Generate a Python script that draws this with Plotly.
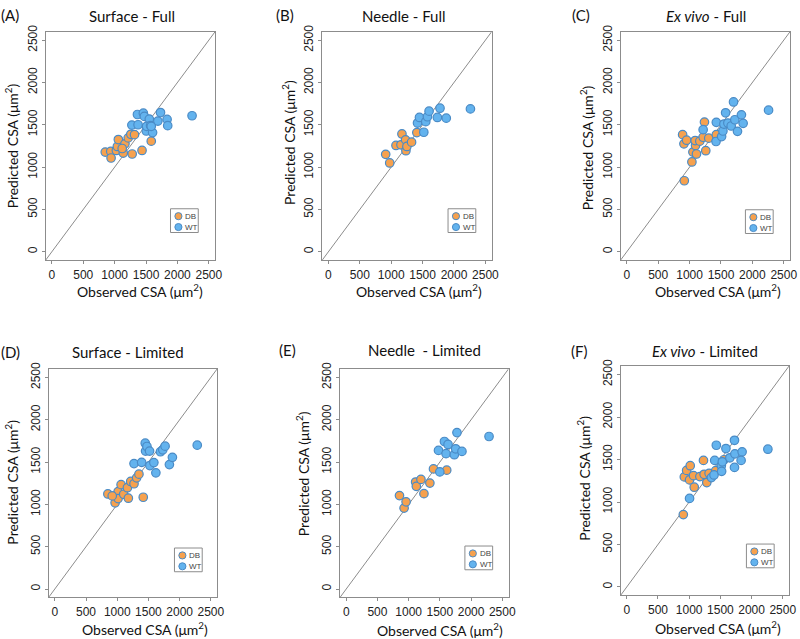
import plotly.graph_objects as go

# ---------------- data (observed, predicted) ----------------
A_db_obs = [850, 938, 943, 1027, 1043, 1059, 1164, 1137, 1216, 1258, 1316, 1279, 1436, 1583, 1120]
A_db_pred = [1178, 1186, 1108, 1197, 1244, 1326, 1275, 1166, 1345, 1388, 1384, 1155, 1197, 1307, 1220]
A_wt_obs = [1363, 1457, 1473, 1552, 1730, 1688, 1835, 1845, 2233, 1274, 1373, 1504, 1509, 1572, 1604, 1583]
A_wt_pred = [1622, 1638, 1599, 1568, 1645, 1544, 1564, 1490, 1607, 1497, 1501, 1427, 1482, 1490, 1408, 1482]

B_db_obs = [912, 976, 1076, 1155, 1171, 1229, 1234, 1250, 1324, 1408]
B_db_pred = [1151, 1049, 1256, 1264, 1392, 1322, 1194, 1244, 1295, 1408]
B_wt_obs = [1419, 1450, 1519, 1550, 1577, 1603, 1735, 1777, 1877, 2262]
B_wt_pred = [1521, 1587, 1412, 1537, 1595, 1661, 1587, 1696, 1579, 1688]

C_db_obs = [889, 910, 953, 916, 1037, 1053, 1095, 1089, 1110, 1163, 1216, 1237, 1258, 1305, 1426]
C_db_pred = [1384, 1275, 1318, 839, 1061, 1178, 1256, 1314, 1155, 1307, 1353, 1532, 1194, 1342, 1384]
C_wt_obs = [1216, 1426, 1421, 1510, 1531, 1547, 1574, 1610, 1663, 1721, 1700, 1763, 1826, 1853, 2258]
C_wt_pred = [1443, 1529, 1303, 1361, 1427, 1509, 1642, 1521, 1486, 1560, 1770, 1423, 1618, 1517, 1673]

D_db_obs = [850, 966, 1014, 1014, 1062, 1104, 1163, 1178, 1216, 1269, 1311, 1348, 1417, 920]
D_db_pred = [1123, 1018, 1151, 1069, 1233, 1120, 1197, 1073, 1271, 1244, 1314, 1357, 1084, 1100]
D_wt_obs = [1269, 1391, 1449, 1454, 1476, 1518, 1523, 1587, 1619, 1693, 1730, 1767, 1836, 1884, 2282]
D_wt_pred = [1482, 1497, 1723, 1630, 1684, 1630, 1459, 1494, 1373, 1622, 1645, 1688, 1470, 1556, 1700]

E_db_obs = [853, 927, 959, 1112, 1123, 1197, 1245, 1340, 1398, 1610]
E_db_pred = [1104, 956, 1030, 1264, 1213, 1295, 1127, 1252, 1419, 1404]
E_wt_obs = [1478, 1499, 1573, 1599, 1631, 1732, 1753, 1774, 1854, 2288]
E_wt_pred = [1638, 1384, 1743, 1599, 1708, 1587, 1657, 1848, 1626, 1802]

F_db_obs = [906, 922, 959, 1006, 1017, 1070, 1081, 1171, 1229, 1239, 1282, 1319, 1425, 1557]
F_db_pred = [852, 1295, 1372, 1260, 1427, 1310, 1174, 1299, 1489, 1326, 1229, 1337, 1368, 1497]
F_wt_obs = [1006, 1356, 1398, 1409, 1435, 1515, 1520, 1531, 1589, 1652, 1726, 1732, 1726, 1848, 1832, 2261]
F_wt_pred = [1042, 1287, 1318, 1489, 1668, 1427, 1361, 1473, 1629, 1520, 1407, 1567, 1726, 1590, 1489, 1621]

panel_letters = ["(A)", "(B)", "(C)", "(D)", "(E)", "(F)"]
panel_titles = ["Surface - Full", "Needle - Full", "<i>Ex vivo</i> - Full",
                "Surface - Limited", "Needle  - Limited", "<i>Ex vivo</i> - Limited"]
group_names = ["DB", "WT"]
tick_vals = [0, 500, 1000, 1500, 2000, 2500]
tick_text = ["0", "500", "1000", "1500", "2000", "2500"]
x_label = "Observed CSA (μm<sup>2</sup>)"
y_label = "Predicted CSA (μm<sup>2</sup>)"

panels = [
    (A_db_obs, A_db_pred, A_wt_obs, A_wt_pred),
    (B_db_obs, B_db_pred, B_wt_obs, B_wt_pred),
    (C_db_obs, C_db_pred, C_wt_obs, C_wt_pred),
    (D_db_obs, D_db_pred, D_wt_obs, D_wt_pred),
    (E_db_obs, E_db_pred, E_wt_obs, E_wt_pred),
    (F_db_obs, F_db_pred, F_wt_obs, F_wt_pred),
]

# ---------------- layout geometry (pixels in 800x639 canvas) ----------------
W, H = 800, 639
AXIS_RANGE = [-100, 2600]
boxes = [(46, 217, 25, 256), (325, 496, 25, 256), (626, 797, 25, 256),
         (49, 219, 366, 597), (343, 513, 366, 597), (626, 796, 363, 595)]
letter_pos = [(10, 8), (288, 8), (586, 8), (11, 349), (290, 347), (585, 348)]
title_pos = [(133, 9), (408, 9), (712, 9), (129, 349), (428, 347), (711, 348)]
xlab_pos = [(141, 287), (423, 287), (724, 287), (146, 628), (444, 629), (724, 627)]
ylab_pos = [(12, 140), (291, 137), (592, 142), (12, 480), (306, 472), (589, 476)]
legend_pos = [(172, 204), (452, 204), (752, 205), (176, 547), (469, 545), (753, 543)]
LEG_W, LEG_H = 28, 24

def px(x):
    return x / W

def py(y):
    return 1 - y / H

ORANGE = "#F6A14E"
BLUE = "#63B3EE"
EDGE = "#4A8BC6"
GRAY = "#8C8C8C"
fills = [ORANGE, BLUE]
NARROW = "Liberation Sans Narrow, Liberation Sans, Arial, sans-serif"
LABEL_FONT = "Lato, Open Sans, sans-serif"

fig = go.Figure()
layout = dict(width=W, height=H, margin=dict(l=0, r=0, t=0, b=0),
              paper_bgcolor="white", plot_bgcolor="white", showlegend=False)
annotations = []
shapes = []

def ann(text, x, y, size, family=LABEL_FONT, angle=0, color="#111", xanchor="center"):
    return dict(text=text, x=px(x), y=py(y), xref="paper", yref="paper",
                showarrow=False, xanchor=xanchor, yanchor="middle", textangle=angle,
                font=dict(family=family, size=size, color=color))

for i, (db_o, db_p, wt_o, wt_p) in enumerate(panels):
    n = "" if i == 0 else str(i + 1)
    xa, ya = "x" + n, "y" + n
    # diagonal identity line across the full axis range
    fig.add_trace(go.Scatter(x=AXIS_RANGE, y=AXIS_RANGE, mode="lines",
                             line=dict(color=GRAY, width=1), xaxis=xa, yaxis=ya,
                             showlegend=False, hoverinfo="skip"))
    for g, (xo, yp) in enumerate([(db_o, db_p), (wt_o, wt_p)]):
        fig.add_trace(go.Scatter(x=xo, y=yp, mode="markers", name=group_names[g],
                                 marker=dict(size=8.5, color=fills[g],
                                             line=dict(color=EDGE, width=1.2)),
                                 xaxis=xa, yaxis=ya))
    x0, x1, y0, y1 = boxes[i]
    axcommon = dict(range=AXIS_RANGE, showgrid=False, zeroline=False,
                    showline=True, mirror=True, linecolor=GRAY, linewidth=1,
                    ticks="outside", ticklen=3, tickcolor=GRAY,
                    tickvals=tick_vals, ticktext=tick_text,
                    tickfont=dict(family=NARROW, size=12, color="#222"))
    layout["xaxis" + n] = dict(axcommon, domain=[px(x0), px(x1)], anchor=ya)
    layout["yaxis" + n] = dict(axcommon, domain=[py(y1), py(y0)], anchor=xa, tickangle=-90)

    # per-panel key box
    lx, ly = legend_pos[i]
    shapes.append(dict(type="rect", xref="paper", yref="paper",
                       x0=px(lx), x1=px(lx + LEG_W), y0=py(ly + LEG_H), y1=py(ly),
                       line=dict(color=GRAY, width=1), fillcolor="white"))
    for g in range(2):
        cy = ly + 7.5 + g * 11
        cx = lx + 8
        shapes.append(dict(type="circle", xref="paper", yref="paper",
                           x0=px(cx - 3.6), x1=px(cx + 3.6), y0=py(cy + 3.6), y1=py(cy - 3.6),
                           line=dict(color=EDGE, width=1), fillcolor=fills[g]))
        annotations.append(ann(group_names[g], lx + 13, cy, 8,
                               family=NARROW, color="#444", xanchor="left"))

    annotations.append(ann(panel_letters[i], *letter_pos[i], 15))
    annotations.append(ann(panel_titles[i], *title_pos[i], 15))
    annotations.append(ann(x_label, *xlab_pos[i], 14))
    annotations.append(ann(y_label, *ylab_pos[i], 14, angle=-90))

layout["annotations"] = annotations
layout["shapes"] = shapes
fig.update_layout(**layout)
fig.write_html("out.html", config={"displayModeBar": False},
               post_script="document.body.style.margin='0';document.body.style.overflow='hidden';")
